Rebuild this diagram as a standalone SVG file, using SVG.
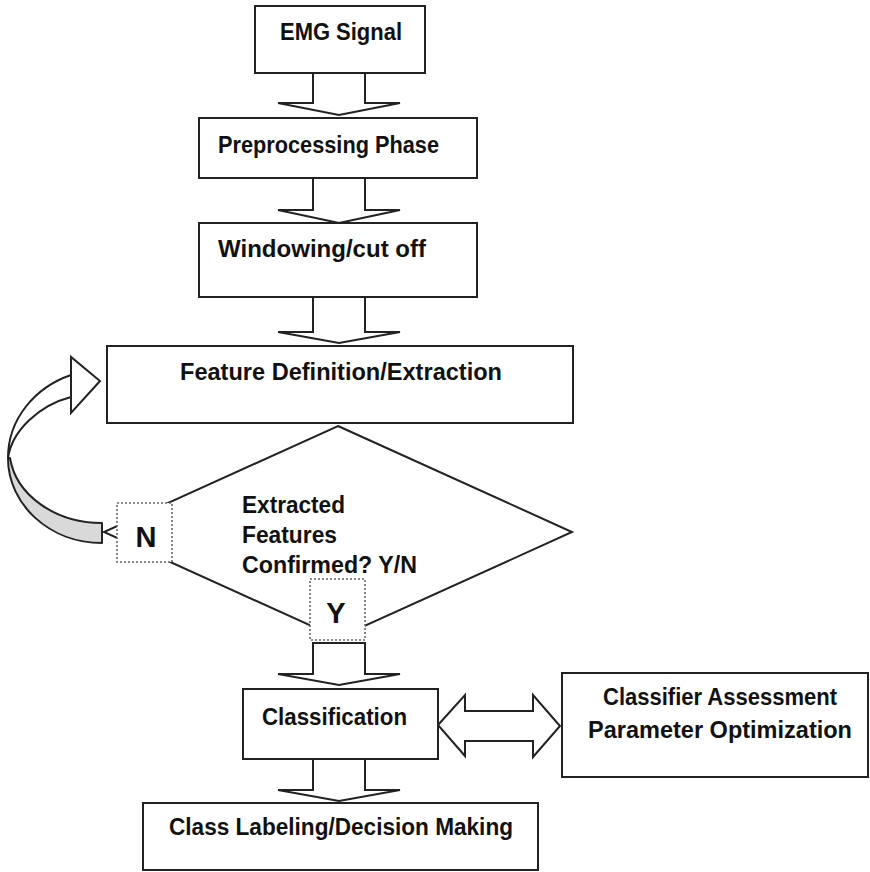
<svg xmlns="http://www.w3.org/2000/svg" width="870" height="872" viewBox="0 0 870 872">
<style>
.box{fill:#fff;stroke:#222;stroke-width:2}
.arr{fill:#fff;stroke:#222;stroke-width:2;stroke-linejoin:miter}
.dot{fill:#fff;stroke:#666;stroke-width:1.6;stroke-dasharray:2 2}
.t{font-family:"Liberation Sans",Arial,sans-serif;font-weight:bold;font-size:23px;fill:#111}
.big{font-family:"Liberation Sans",Arial,sans-serif;font-weight:bold;font-size:29px;fill:#111}
</style>
<rect width="870" height="872" fill="#fff"/>
<g id="connectors">
  <polygon class="arr" points="313,73 365,73 365,103 400,103 339,115 278,103 313,103"/>
  <polygon class="arr" points="313,178 365,178 365,210 400,210 339,223 278,210 313,210"/>
  <polygon class="arr" points="313,297 365,297 365,332 400,332 339,343 278,332 313,332"/>
  <polygon class="arr" points="313,643 365,643 365,674 400,674 339,685 278,674 313,674"/>
  <polygon class="arr" points="313,759 365,759 365,790 400,790 339,801 278,790 313,790"/>
  <polygon class="arr" points="438,725 465,695 465,711 533,711 533,695 560,726 533,757 533,741 465,741 465,756"/>
  <g id="loop-arrow">
    <path d="M71,375 C36,387 8,418 8,458 C12,430 40,405 71,397 Z" fill="#fff" stroke="#222" stroke-width="2" stroke-linejoin="round"/>
    <path d="M8,458 C8,505 50,543 102,543 L102,523 C55,523 16,495 10,458 Z" fill="#d9d9d9" stroke="#222" stroke-width="2" stroke-linejoin="round"/>
    <polygon class="arr" points="71,375 71,357 100,381 71,413 71,397"/>
  </g>
</g>
<g id="emg-signal">
  <rect class="box" x="255" y="6" width="170" height="67"/>
  <text class="t" x="280" y="40" textLength="122" lengthAdjust="spacingAndGlyphs">EMG Signal</text>
</g>
<g id="preprocessing">
  <rect class="box" x="199" y="118" width="278" height="60"/>
  <text class="t" x="218" y="153" textLength="221" lengthAdjust="spacingAndGlyphs">Preprocessing Phase</text>
</g>
<g id="windowing">
  <rect class="box" x="199" y="223" width="278" height="74"/>
  <text class="t" x="218" y="257" textLength="208" lengthAdjust="spacingAndGlyphs">Windowing/cut off</text>
</g>
<g id="feature-extraction">
  <rect class="box" x="107" y="346" width="466" height="77"/>
  <text class="t" x="180" y="380" textLength="322" lengthAdjust="spacingAndGlyphs">Feature Definition/Extraction</text>
</g>
<g id="decision">
  <polygon class="box" points="338,426 572,532 338,638 104,532"/>
  <text class="t" x="242" y="513" textLength="103" lengthAdjust="spacingAndGlyphs">Extracted</text>
  <text class="t" x="242" y="543" textLength="95" lengthAdjust="spacingAndGlyphs">Features</text>
  <text class="t" x="242" y="573" textLength="175" lengthAdjust="spacingAndGlyphs">Confirmed? Y/N</text>
</g>
<g id="label-n">
  <rect class="dot" x="117" y="503" width="55" height="59"/>
  <text class="big" x="146" y="547" text-anchor="middle">N</text>
</g>
<g id="label-y">
  <rect class="dot" x="310" y="579" width="55" height="61"/>
  <text class="big" x="336" y="623" text-anchor="middle">Y</text>
</g>
<g id="classification">
  <rect class="box" x="243" y="689" width="195" height="70"/>
  <text class="t" x="262" y="725" textLength="145" lengthAdjust="spacingAndGlyphs">Classification</text>
</g>
<g id="classifier-assessment">
  <rect class="box" x="562" y="673" width="306" height="104"/>
  <text class="t" x="603" y="705" textLength="234" lengthAdjust="spacingAndGlyphs">Classifier Assessment</text>
  <text class="t" x="588" y="738" textLength="264" lengthAdjust="spacingAndGlyphs">Parameter Optimization</text>
</g>
<g id="class-labeling">
  <rect class="box" x="143" y="803" width="395" height="67"/>
  <text class="t" x="169" y="835" textLength="344" lengthAdjust="spacingAndGlyphs">Class Labeling/Decision Making</text>
</g>
</svg>
